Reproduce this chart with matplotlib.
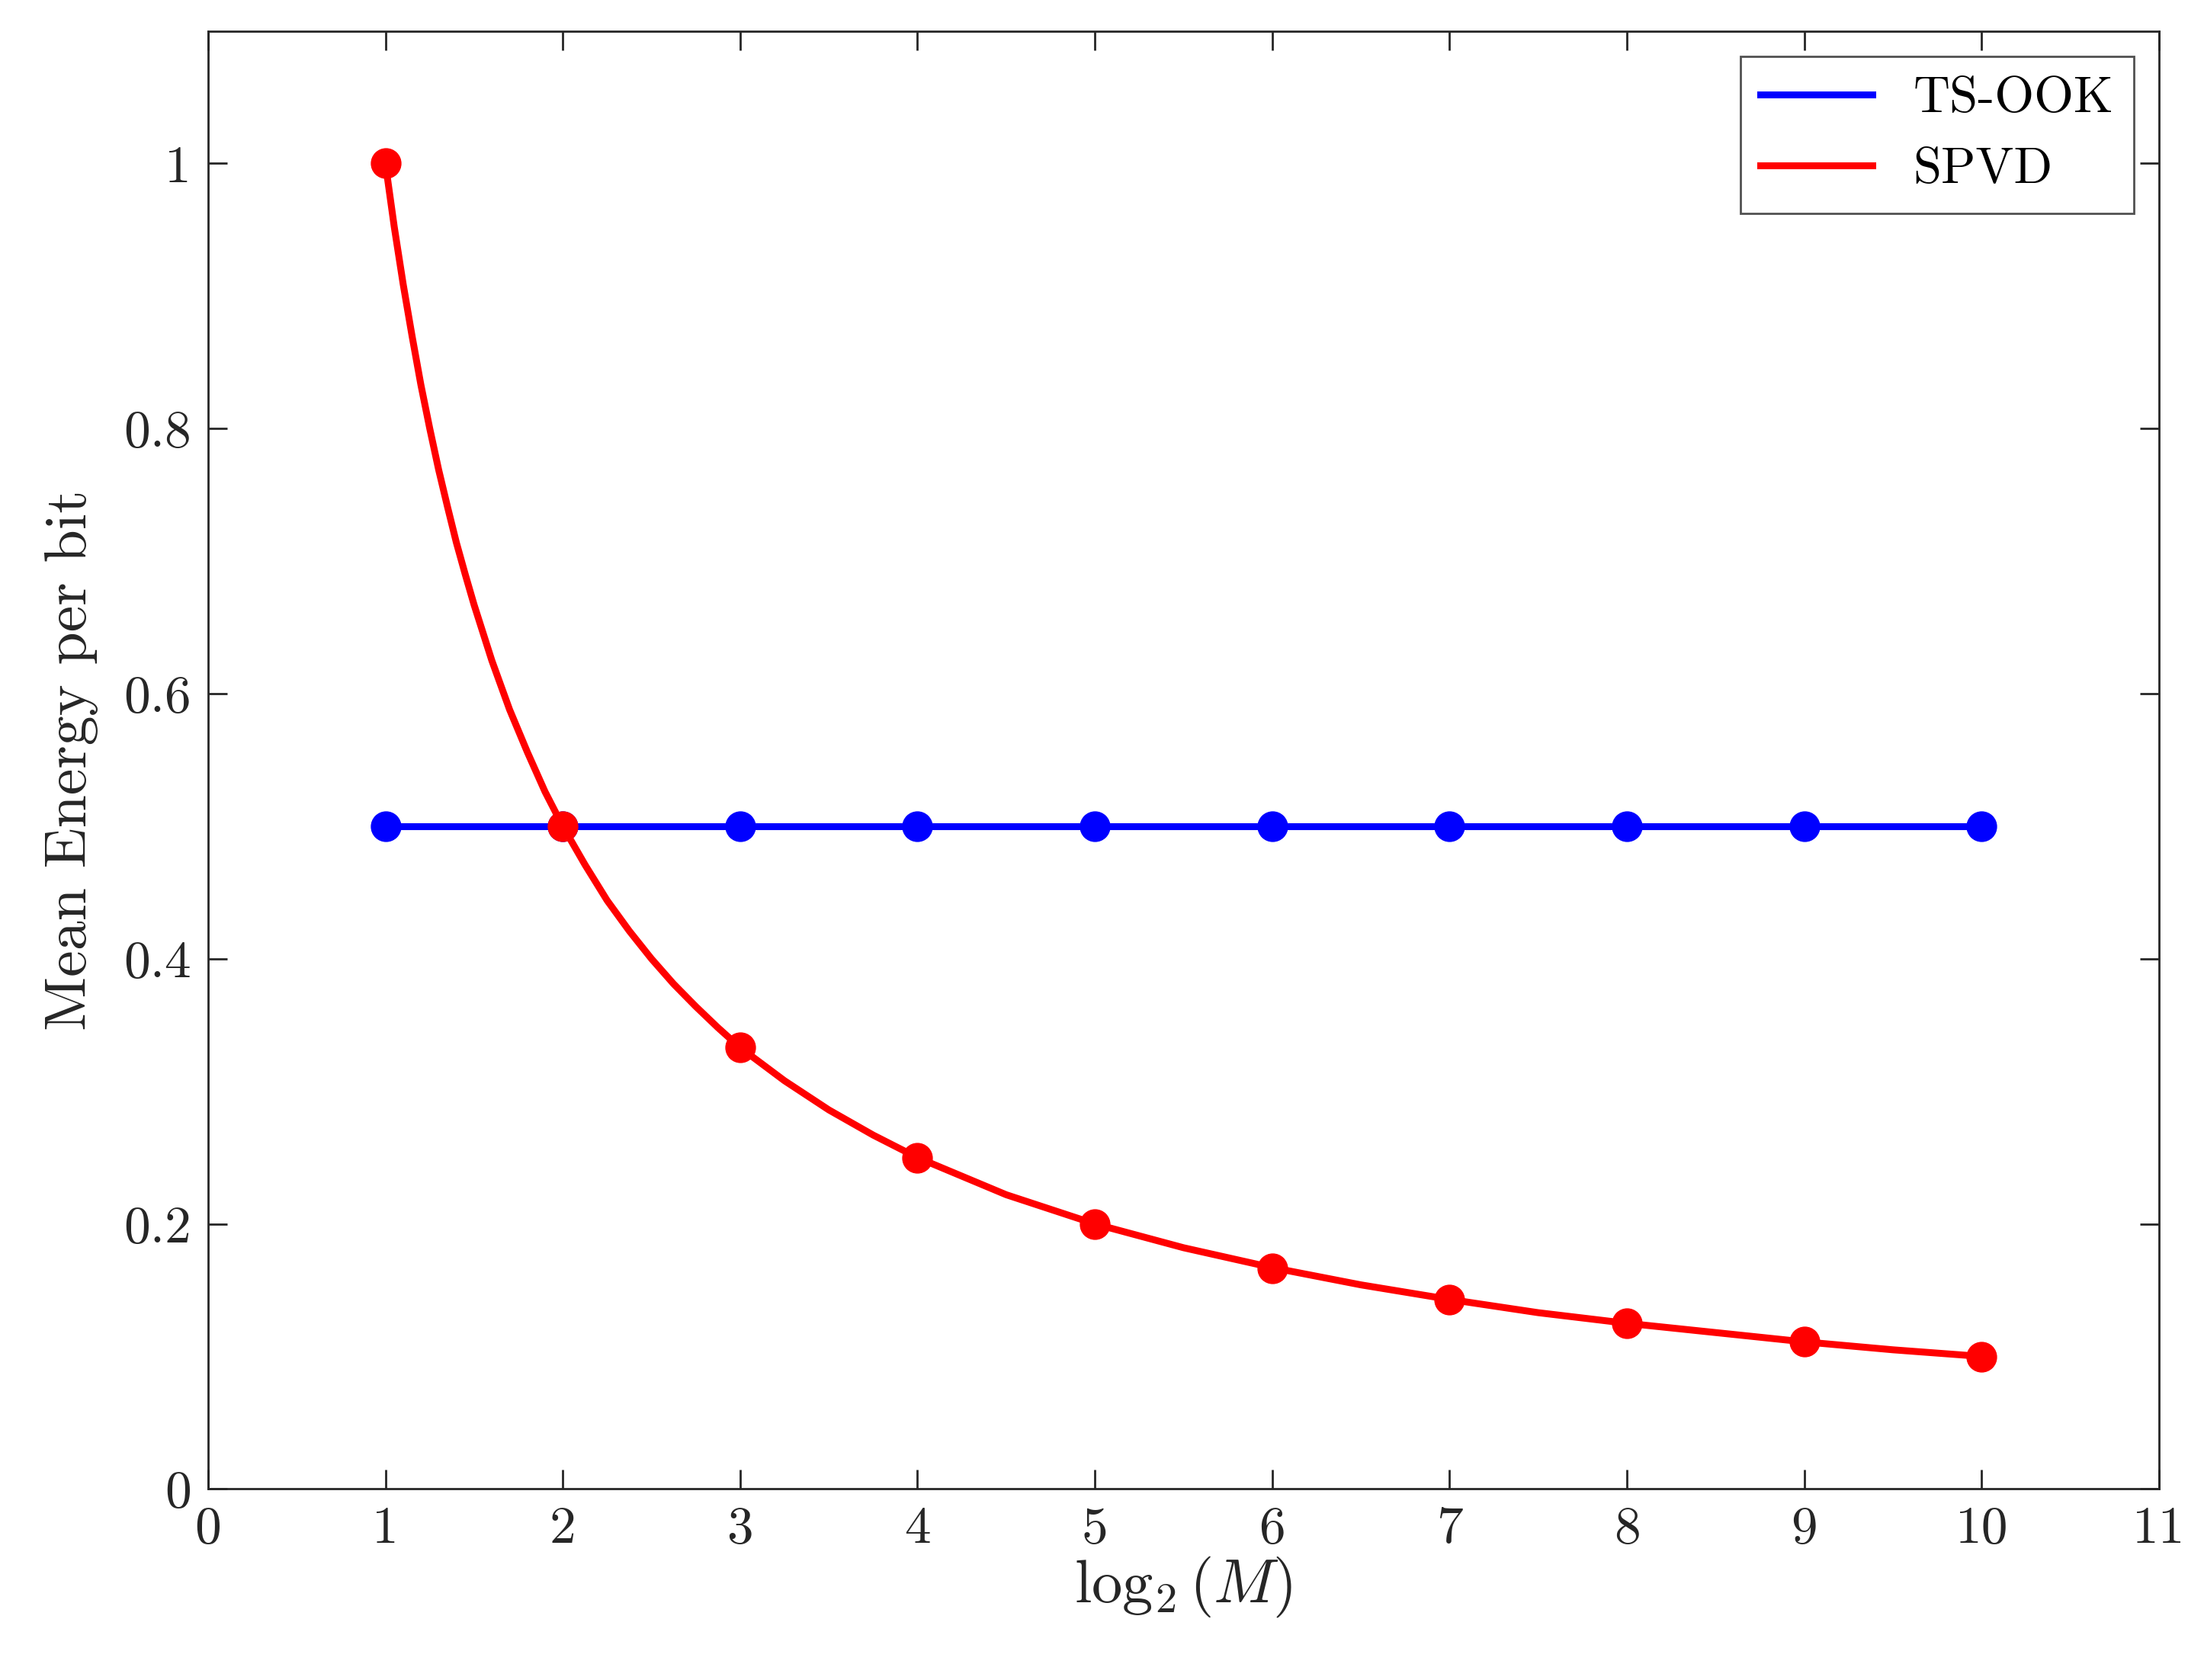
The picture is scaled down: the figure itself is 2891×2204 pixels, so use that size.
import matplotlib
matplotlib.use("Agg")
import matplotlib.pyplot as plt

x = [1, 2, 3, 4, 5, 6, 7, 8, 9, 10]
ts_ook = [0.5] * 10
spvd = [1.0, 0.5, 0.333, 0.25, 0.2, 0.1667, 0.1429, 0.125, 0.111, 0.1]
# curve values at intermediate points
curve_x = [1, 1.05, 1.1, 1.15, 1.2, 1.25, 1.3, 1.35, 1.4, 1.45, 1.5, 1.6, 1.7, 1.8, 1.9, 2, 2.125, 2.25, 2.375, 2.5, 2.625, 2.75, 2.875, 3, 3.25, 3.5, 3.75, 4, 4.5, 5, 5.5, 6, 6.5, 7, 7.5, 8, 8.5, 9, 9.5, 10]
curve_y = [1.0, 0.952, 0.909, 0.870, 0.833, 0.8, 0.769, 0.741, 0.714, 0.690, 0.667, 0.625, 0.588, 0.556, 0.526, 0.5, 0.471, 0.444, 0.421, 0.4, 0.381, 0.364, 0.348, 0.333, 0.308, 0.286, 0.267, 0.25, 0.222, 0.2, 0.182, 0.167, 0.154, 0.143, 0.133, 0.125, 0.118, 0.111, 0.105, 0.1]

plt.rcParams["font.family"] = "cmr10"
plt.rcParams["mathtext.fontset"] = "cm"
plt.rcParams["axes.formatter.use_mathtext"] = True
fig = plt.figure(figsize=(28.91, 22.04), dpi=100)
ax = fig.add_axes([0.0944, 0.1137, 0.8852, 0.8679])
lw = 6.5
ax.plot(x, ts_ook, color="#0000ff", lw=lw, label="TS-OOK")
ax.plot(x, ts_ook, "o", color="#0000ff", ms=28)
ax.plot(curve_x, curve_y, color="#ff0000", lw=lw, label="SPVD")
ax.plot(x, spvd, "o", color="#ff0000", ms=28)
ax.set_xlim(0, 11)
ax.set_ylim(0, 1.1)
ax.set_xticks(range(0, 12))
ax.set_xticklabels([str(i) for i in range(0, 12)])
ax.set_yticks([0, 0.2, 0.4, 0.6, 0.8, 1])
ax.set_yticklabels(["0", "0.2", "0.4", "0.6", "0.8", "1"])
ax.tick_params(direction="in", length=18, width=2, top=True, right=True, labelsize=50, pad=16, colors="#262626")
for s in ax.spines.values():
    s.set_linewidth(2)
    s.set_color("#262626")
ax.set_xlabel(r"$\log_2(M)$", fontsize=58, color="#262626", labelpad=2)
ax.set_ylabel("Mean Energy per bit", fontsize=56, color="#262626", labelpad=24)
leg = ax.legend(loc="upper right", fontsize=48, fancybox=False, edgecolor="#262626", handlelength=2.2, borderaxespad=0.5)
leg.get_frame().set_linewidth(2)
fig.savefig("out.png", dpi=100)
